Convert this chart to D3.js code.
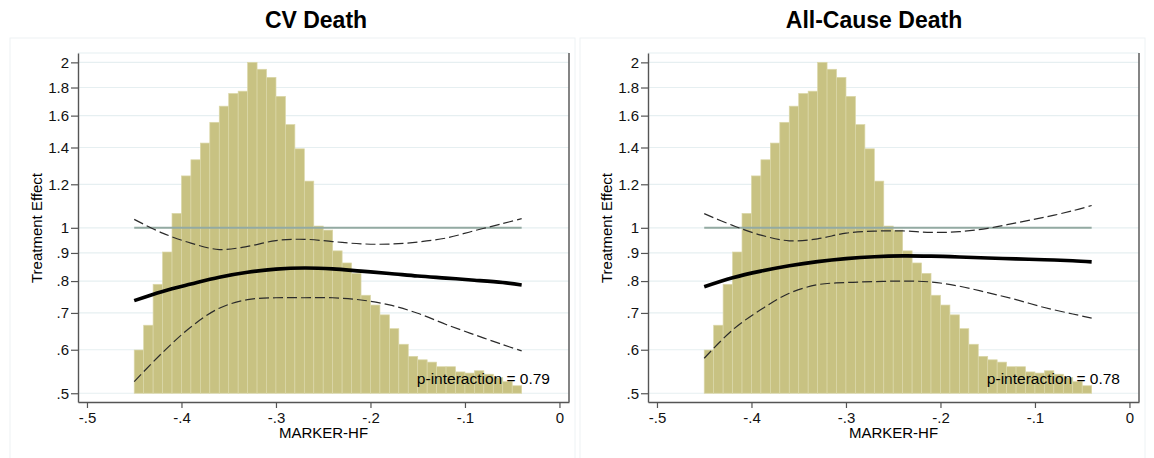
<!DOCTYPE html>
<html>
<head>
<meta charset="utf-8">
<script src="https://cdn.jsdelivr.net/npm/d3@7"></script>
<style>
body { margin: 0; background: #fff; }
svg { display: block; font-family: "Liberation Sans", Arial, sans-serif; }
</style>
</head>
<body>
<svg id="chart" width="1154" height="458"></svg>
<script>
// marker-hf values where curves were read
let xGrid = [-0.45, -0.42, -0.39, -0.36, -0.33, -0.30, -0.27, -0.24, -0.21, -0.18, -0.15, -0.12, -0.09, -0.06, -0.04];

// CV death
let cvEst   = [0.737, 0.766, 0.790, 0.813, 0.830, 0.841, 0.845, 0.842, 0.834, 0.826, 0.817, 0.810, 0.803, 0.795, 0.787];
let cvUpper = [1.036, 0.978, 0.938, 0.913, 0.925, 0.948, 0.953, 0.944, 0.935, 0.934, 0.942, 0.958, 0.988, 1.018, 1.039];
let cvLower = [0.525, 0.593, 0.660, 0.714, 0.740, 0.746, 0.746, 0.746, 0.739, 0.724, 0.699, 0.667, 0.639, 0.613, 0.597];

// all-cause death
let acEst   = [0.781, 0.811, 0.834, 0.853, 0.868, 0.879, 0.886, 0.889, 0.888, 0.885, 0.881, 0.878, 0.875, 0.871, 0.867];
let acUpper = [1.061, 1.010, 0.970, 0.947, 0.955, 0.978, 0.986, 0.987, 0.981, 0.984, 0.998, 1.021, 1.045, 1.074, 1.098];
let acLower = [0.579, 0.652, 0.710, 0.760, 0.788, 0.795, 0.798, 0.800, 0.797, 0.783, 0.762, 0.740, 0.716, 0.697, 0.685];

// histogram of marker-hf (percent per bin), left bin edges
let binLeft = [-0.45, -0.44, -0.43, -0.42, -0.41, -0.40, -0.39, -0.38, -0.37, -0.36, -0.35,
               -0.34, -0.33, -0.32, -0.31, -0.30, -0.29, -0.28, -0.27, -0.26, -0.25,
               -0.24, -0.23, -0.22, -0.21, -0.20, -0.19, -0.18, -0.17, -0.16, -0.15,
               -0.14, -0.13, -0.12, -0.11, -0.10, -0.09, -0.08, -0.07, -0.06, -0.05];
let binWidth = 0.01;
let histPct = [0.75, 1.18, 1.89, 2.45, 3.12, 3.77, 4.05, 4.34, 4.70, 4.98, 5.20,
               5.24, 5.74, 5.62, 5.48, 5.15, 4.66, 4.24, 3.68, 2.90, 2.83,
               2.47, 2.26, 2.08, 1.70, 1.53, 1.36, 1.12, 0.85, 0.64, 0.58,
               0.54, 0.46, 0.46, 0.37, 0.35, 0.39, 0.33, 0.27, 0.20, 0.13];

let yTicks = [2, 1.8, 1.6, 1.4, 1.2, 1, 0.9, 0.8, 0.7, 0.6, 0.5];
let yTickLabels = ["2", "1.8", "1.6", "1.4", "1.2", "1", ".9", ".8", ".7", ".6", ".5"];
let xTicks = [-0.5, -0.4, -0.3, -0.2, -0.1, 0];
let xTickLabels = ["-.5", "-.4", "-.3", "-.2", "-.1", "0"];

let panels = [
    {title: "CV Death", titleX: 316, est: cvEst, upper: cvUpper, lower: cvLower, p: "p-interaction = 0.79"},
    {title: "All-Cause Death", titleX: 304, est: acEst, upper: acUpper, lower: acLower, p: "p-interaction = 0.78"}
];

let svg = d3.select("#chart");

function draw_panel(g, d) {
    let x = d3.scaleLinear().domain([-0.5095, 0.0101]).range([78, 569]);
    let y = d3.scaleLog().domain([0.482, 2.08]).range([402, 53]);
    let yh = d3.scaleLinear().domain([0, d3.max(histPct)]).range([y(0.5), y(2)]);

    // outer frame
    g.append("rect")
        .attr("x", 10).attr("y", 38).attr("width", 565).attr("height", 440)
        .attr("fill", "none").attr("stroke", "#edf2f4");

    // grid
    g.append("g").selectAll("line")
        .data(yTicks)
        .join("line")
        .attr("x1", 78).attr("x2", 569)
        .attr("y1", t => y(t)).attr("y2", t => y(t))
        .attr("stroke", "#e6eff1").attr("stroke-width", 1.2);
    g.append("line")
        .attr("x1", 78).attr("x2", 569).attr("y1", 53).attr("y2", 53)
        .attr("stroke", "#e6eff1").attr("stroke-width", 1.2);

    // histogram
    g.append("g").selectAll("rect")
        .data(histPct)
        .join("rect")
        .attr("x", (v, i) => x(binLeft[i]))
        .attr("width", (v, i) => x(binLeft[i] + binWidth) - x(binLeft[i]))
        .attr("y", v => yh(v))
        .attr("height", v => yh(0) - yh(v))
        .attr("fill", "#c8c282")
        .attr("stroke", "#dbd7a8")
        .attr("stroke-width", 0.7);

    // reference line at 1
    g.append("line")
        .attr("x1", x(xGrid[0])).attr("x2", x(xGrid[xGrid.length - 1]))
        .attr("y1", y(1)).attr("y2", y(1))
        .attr("stroke", "#93aaa2").attr("stroke-width", 2);

    let line = d3.line()
        .x((v, i) => x(xGrid[i]))
        .y(v => y(v))
        .curve(d3.curveCatmullRom);

    [d.upper, d.lower].forEach(s => {
        g.append("path")
            .attr("d", line(s))
            .attr("fill", "none")
            .attr("stroke", "#2a2a2a")
            .attr("stroke-width", 1.2)
            .attr("stroke-dasharray", "10,4");
    });
    g.append("path")
        .attr("d", line(d.est))
        .attr("fill", "none")
        .attr("stroke", "#000")
        .attr("stroke-width", 3.6);

    // axes
    let yAxis = g.append("g")
        .attr("transform", "translate(78,0)")
        .call(d3.axisLeft(y).tickValues(yTicks).tickFormat((t, i) => yTickLabels[i]).tickSize(7).tickSizeOuter(0));
    let xAxis = g.append("g")
        .attr("transform", "translate(0,402)")
        .call(d3.axisBottom(x).tickValues(xTicks).tickFormat((t, i) => xTickLabels[i]).tickSize(6).tickSizeOuter(0));
    [yAxis, xAxis].forEach(a => {
        a.select(".domain").attr("stroke", "#555").attr("stroke-width", 1.4);
        a.selectAll(".tick line").attr("stroke", "#555").attr("stroke-width", 1.2);
        a.selectAll(".tick text").attr("fill", "#111").style("font-size", "15px");
    });
    yAxis.selectAll(".tick text").attr("x", -9);
    xAxis.selectAll(".tick text").attr("y", 10);
    g.append("line")
        .attr("x1", 569).attr("x2", 569).attr("y1", 53).attr("y2", 402)
        .attr("stroke", "#666").attr("stroke-width", 1.6);

    // texts
    g.append("text")
        .attr("x", d.titleX).attr("y", 28)
        .attr("text-anchor", "middle")
        .style("font-size", "23px").style("font-weight", "bold")
        .text(d.title);
    g.append("text")
        .attr("x", 323.5).attr("y", 438)
        .attr("text-anchor", "middle")
        .style("font-size", "15px")
        .text("MARKER-HF");
    g.append("text")
        .attr("transform", "translate(42,228) rotate(-90)")
        .attr("text-anchor", "middle")
        .style("font-size", "15px")
        .text("Treatment Effect");
    g.append("text")
        .attr("x", 550).attr("y", 383.5)
        .attr("text-anchor", "end")
        .style("font-size", "15.5px")
        .text(d.p);
}

panels.forEach((d, i) => {
    let g = svg.append("g").attr("transform", `translate(${i * 570},0)`);
    draw_panel(g, d);
});
</script>
</body>
</html>
